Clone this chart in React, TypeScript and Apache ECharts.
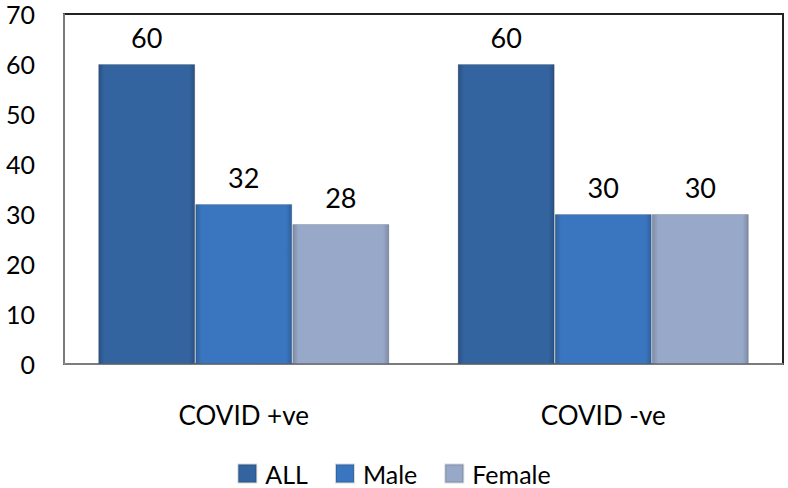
import React, { useEffect, useRef } from "react";
import * as echarts from "echarts";

const categories = ["COVID +ve", "COVID -ve"];
const seriesNames = ["ALL", "Male", "Female"];
const allValues = [60, 60];
const maleValues = [32, 30];
const femaleValues = [28, 30];
const yTicks = [0, 10, 20, 30, 40, 50, 60, 70];

const FONT = "Lato, 'Liberation Sans', sans-serif";

function grad(edge: string, mid: string) {
  return new echarts.graphic.LinearGradient(0, 0, 1, 0, [
    { offset: 0, color: edge },
    { offset: 0.06, color: mid },
    { offset: 0.94, color: mid },
    { offset: 1, color: edge },
  ]);
}

export default function App() {
  const ref = useRef<HTMLDivElement>(null);
  useEffect(() => {
    if (!ref.current) return;
    const chart = echarts.init(ref.current, undefined, { renderer: "svg" });
    const colors = [
      grad("#2a5083", "#33649f"),
      grad("#2f609e", "#3a75bf"),
      grad("#7f8ba6", "#97a8c8"),
    ];
    const legendColors = ["#33649f", "#3a75bf", "#97a8c8"];
    const dataSets = [allValues, maleValues, femaleValues];
    chart.setOption({
      animation: false,
      textStyle: { fontFamily: FONT },
      grid: {
        left: 64,
        right: 5,
        top: 14,
        bottom: 124,
        show: true,
        borderColor: "#222",
        borderWidth: 2,
        backgroundColor: "#fff",
      },
      legend: {
        top: 461,
        left: "center",
        padding: 0,
        itemWidth: 18,
        itemHeight: 18,
        itemGap: 27,
        icon: "rect",
        textStyle: {
          fontSize: 25,
          lineHeight: 22,
          color: "#000",
          fontFamily: FONT,
          padding: [0, 0, 0, 4],
        },
        data: seriesNames.map((n, i) => ({ name: n, itemStyle: { color: legendColors[i] } })),
      },
      xAxis: {
        type: "category",
        data: categories,
        axisTick: { show: false },
        axisLine: { lineStyle: { color: "#9a9a9a", width: 1.5 } },
        axisLabel: { fontSize: 26, color: "#000", margin: 38, fontFamily: FONT },
      },
      yAxis: {
        type: "value",
        min: yTicks[0],
        max: yTicks[yTicks.length - 1],
        interval: 10,
        axisLine: { show: true, lineStyle: { color: "#9a9a9a", width: 1.5 } },
        axisTick: { show: false },
        splitLine: { show: false },
        axisLabel: { fontSize: 25, color: "#000", margin: 29, fontFamily: FONT },
      },
      series: seriesNames.map((name, i) => ({
        name,
        type: "bar",
        data: dataSets[i],
        barGap: "0%",
        barCategoryGap: "19%",
        itemStyle: { color: colors[i], borderColor: "rgba(0,0,0,0.15)", borderWidth: 1 },
        label: {
          show: true,
          position: "top",
          distance: 13,
          fontSize: 27,
          color: "#000",
          fontFamily: FONT,
        },
      })),
    });
    return () => chart.dispose();
  }, []);
  return <div ref={ref} style={{ width: 788, height: 488, position: "absolute", left: 0, top: 0 }} />;
}
